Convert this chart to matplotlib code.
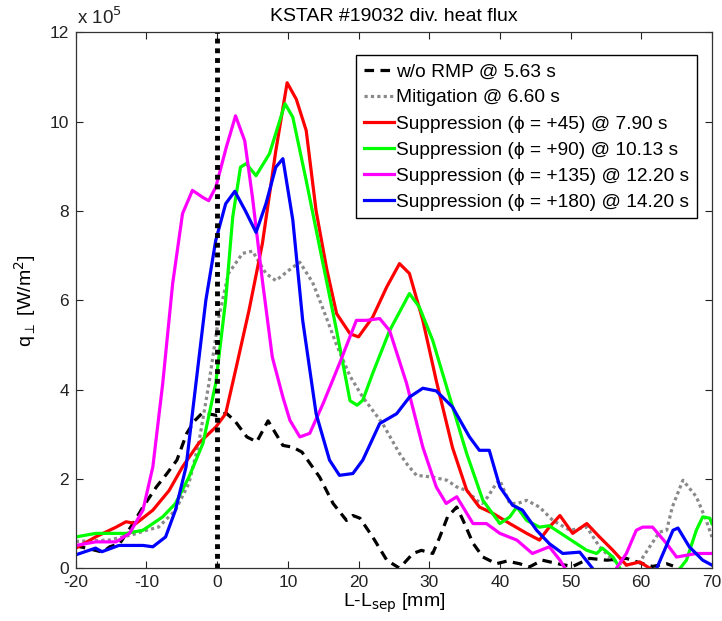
import numpy as np
import matplotlib
matplotlib.use("Agg")
import matplotlib.pyplot as plt

plt.rcParams['font.family'] = ['Liberation Sans', 'DejaVu Sans']
plt.rcParams['axes.unicode_minus'] = False

# L - L_sep [mm] and q_perp [x 10^5 W/m^2]
x_normp = [-20, -18.5, -16.2, -15.2, -13.8, -11.9, -10.5, -8.6, -7.1, -5.7, -4.3, -3.2, -2.2, -1, 0,
           1.3, 2.5, 4.2, 5.6, 7.2, 9.3, 10.7, 12, 14.5, 16.4, 18.3, 19.2, 20.2, 22, 24, 25.8, 27.7,
           28.9, 30.5, 31.5, 32.6, 33.9, 34.8, 36.2, 37.6, 39.5, 41, 42.8, 44.2, 46, 48.5, 50.3, 52.7,
           55.1, 57.9, 59.8, 61.6, 63.6, 64.5]
q_normp = [0.5, 0.45, 0.36, 0.48, 0.55, 1.0, 1.37, 1.82, 2.12, 2.42, 3.02, 3.3, 3.46, 3.45, 3.42,
           3.47, 3.3, 2.94, 2.83, 3.3, 2.75, 2.71, 2.6, 2.04, 1.45, 1.07, 1.18, 1.12, 0.7, 0.18, 0.0, 0.33,
           0.4, 0.33, 0.7, 1.15, 1.37, 1.07, 0.56, 0.25, 0.1, 0.16, 0.1, 0.03, 0.18, 0.09, 0.04, 0.22,
           0.18, 0.22, 0.12, 0.04, 0.1, 0.05]

x_mitig = [-20, -15.3, -12, -10, -8.3, -5.9, -4, -2.6, -1.2, 0.2, 1.6, 3.6, 5, 6.9, 8.3, 10.7, 11.7,
           13.5, 15, 16.9, 18.8, 20.6, 23.4, 25.8, 27, 28.2, 30.5, 32.5, 33.9, 35.3, 36.7, 37.5, 38.3,
           39.5, 40, 41.4, 42.5, 43.8, 45.6, 47.5, 49.9, 52.3, 54.1, 56, 57.9, 59.8, 61.2, 62.6, 63.6,
           64.4, 65.9, 67.8, 69.2, 70]
q_mitig = [0.6, 0.63, 0.75, 0.85, 0.92, 1.3, 1.9, 2.8, 4.1, 5.6, 6.6, 7.05, 7.1, 6.6, 6.44, 6.74, 6.85,
           6.4, 5.8, 5.0, 4.3, 3.83, 3.24, 2.57, 2.3, 2.08, 2.04, 1.97, 1.82, 1.74, 1.52, 1.45, 1.6,
           1.9, 1.97, 1.45, 1.45, 1.52, 1.37, 1.07, 0.85, 0.92, 0.48, 0.18, 0.07, 0.14, 0.48, 0.81, 0.85,
           1.37, 1.97, 1.6, 1.07, 0.7]

x_p45 = [-20, -17.2, -14.3, -12.9, -11.5, -9.1, -6.8, -4.9, -2.6, -0.2, 1.2, 2.6, 4.5, 6.4, 8.3, 9.9,
         11.2, 12.6, 14, 15.5, 16.9, 18.8, 20, 22, 24, 25.8, 27.2, 29.1, 31, 33.3, 35.3, 37.1, 39, 41.4,
         43.8, 45.6, 47, 48.5, 50.3, 52.3, 54.1, 56, 57.9, 59.8, 61.2, 62.5]
q_p45 = [0.45, 0.7, 0.92, 1.04, 1.0, 1.3, 1.74, 2.27, 2.8, 3.16, 3.46, 4.43, 5.77, 7.27, 9.35, 10.87,
         10.5, 9.8, 8.0, 6.7, 5.7, 5.25, 5.18, 5.62, 6.3, 6.82, 6.6, 5.55, 4.2, 2.7, 1.75, 1.37, 1.23, 1.0,
         0.78, 0.63, 0.92, 1.18, 0.78, 1.0, 0.7, 0.4, 0.07, 0.14, 0.0, -0.2]

x_p90 = [-20, -17.2, -12.9, -10.5, -7.7, -5.9, -4, -2, -0.2, 1.2, 2.2, 3.3, 4.1, 5.5, 7.4, 9.6, 10.7,
         12.6, 14.5, 16.9, 18.8, 19.8, 20.6, 22, 24.4, 27.2, 28.6, 30.5, 32.9, 35.3, 37.6, 40, 41.4,
         42.4, 43.8, 45.6, 47, 49.4, 52.3, 53.7, 54.5, 56, 57, 58, 63, 64.5, 66.4, 67.8, 68.7, 69.7, 70]
q_p90 = [0.7, 0.78, 0.78, 0.85, 1.15, 1.45, 2.04, 2.8, 4.14, 6.0, 7.86, 8.98, 9.06, 8.79, 9.28, 10.4, 10.1,
         8.68, 7.19, 5.32, 3.75, 3.65, 3.76, 4.36, 5.32, 6.15, 5.85, 5.1, 3.83, 2.57, 1.52, 1.0, 1.15,
         1.37, 1.07, 0.92, 0.95, 0.7, 0.4, 0.33, 0.45, 0.25, 0.0, -0.5, -0.5, -0.2, 0.18, 0.85, 1.15, 1.12, 1.0]

x_p135 = [-20, -17.2, -14.3, -12.4, -10.5, -9.1, -7.7, -6.3, -4.9, -3.5, -2, -1.2, -0.2, 1.3, 2.6, 3.9,
          5.0, 6.4, 7.8, 9.3, 10.3, 11.7, 13.1, 15, 17.3, 19.7, 21.1, 23, 24.4, 26.8, 29.1, 31, 32.4,
          33.9, 36.2, 38.1, 40, 42.4, 44.6, 47, 48.5, 49.4, 50.5, 56, 56.5, 57.9, 59.3, 60.2, 61.6, 63.6,
          65, 66.4, 67.8, 70]
q_p135 = [0.51, 0.59, 0.59, 0.78, 1.3, 2.27, 4.14, 6.37, 7.94, 8.46, 8.3, 8.23, 8.53, 9.43, 10.13, 9.57,
          8.3, 6.44, 4.73, 3.83, 3.31, 2.94, 3.02, 3.69, 4.58, 5.55, 5.55, 5.59, 5.32, 4.14, 2.71, 1.82, 1.45,
          1.6, 1.0, 1.0, 0.78, 0.63, 0.33, 0.48, 0.18, -0.05, -0.5, -0.5, 0.0, 0.33, 0.85, 0.92, 0.92, 0.55,
          0.25, 0.29, 0.33, 0.33]

x_p180 = [-20, -17.2, -16.3, -13.9, -10.5, -9.1, -7.3, -5.9, -4.4, -3, -1.6, -0.2, 1.2, 2.5, 4.0, 5.5,
          6.9, 8.3, 9.3, 10.7, 12.1, 14, 15.9, 17.3, 19.2, 20.6, 23, 25.4, 27.2, 29.1, 31, 33.3, 35.7,
          37.1, 38.5, 40, 41.8, 43.2, 45.2, 47, 48.9, 51.3, 53.1, 54, 61, 62.2, 64.5, 65.2, 66.8, 68.7, 70]
q_p180 = [0.3, 0.45, 0.37, 0.51, 0.51, 0.48, 0.7, 1.3, 2.27, 4.14, 6.0, 7.34, 8.16, 8.44, 8.0, 7.52,
          8.16, 8.98, 9.17, 7.8, 5.55, 3.46, 2.42, 2.08, 2.12, 2.42, 3.24, 3.46, 3.83, 4.03, 3.97, 3.61, 2.94,
          2.64, 2.64, 1.82, 1.41, 1.3, 0.85, 0.55, 0.33, 0.36, 0.0, -0.5, -0.5, 0.0, 0.85, 0.9, 0.48, 0.18, 0.07]

labels = ["w/o RMP @ 5.63 s",
          "Mitigation @ 6.60 s",
          "Suppression (\u03d5 = +45) @ 7.90 s",
          "Suppression (\u03d5 = +90) @ 10.13 s",
          "Suppression (\u03d5 = +135) @ 12.20 s",
          "Suppression (\u03d5 = +180) @ 14.20 s"]

fig = plt.figure(figsize=(7.22, 6.21), dpi=100)
ax = fig.add_axes([0.105, 0.085, 0.881, 0.863])

lw = 2.3
ax.plot(x_normp, q_normp, color='k', ls=(0, (3.0, 2.0)), lw=lw, label=labels[0])
ax.plot(x_mitig, q_mitig, color='#8a8a8a', ls=(0, (1, 1)), lw=lw, label=labels[1])
ax.plot(x_p45, q_p45, color='#ff0000', lw=lw, label=labels[2])
ax.plot(x_p90, q_p90, color='#00ff00', lw=lw, label=labels[3])
ax.plot(x_p135, q_p135, color='#ff00ff', lw=lw, label=labels[4])
ax.plot(x_p180, q_p180, color='#0000ff', lw=lw, label=labels[5])
ax.axvline(0, color='k', ls=(0, (1, 1)), lw=3.5)

ax.set_xlim(-20, 70)
ax.set_ylim(0, 12)
ax.set_xticks(np.arange(-20, 71, 10))
ax.set_yticks(np.arange(0, 13, 2))
ax.tick_params(direction='in', length=5, width=0.8, top=True, right=True,
               labelsize=12.5, colors='#222222', pad=5)
for s in ax.spines.values():
    s.set_linewidth(0.9)
    s.set_color('#333333')

ax.set_title("KSTAR #19032 div. heat flux", fontsize=14, pad=8)
ax.text(0.002, 1.008, r"x 10$^5$", transform=ax.transAxes, fontsize=13.5,
        ha='left', va='bottom', color='#222222')
ax.set_xlabel(r"L-L$_\mathrm{sep}$ [mm]", fontsize=14, labelpad=1)
ax.set_ylabel(r"q$_\perp$ [W/m$^2$]", fontsize=14, labelpad=8)

leg = ax.legend(loc='upper right', bbox_to_anchor=(0.976, 0.957), fontsize=13.8,
                handlelength=1.55, handletextpad=0.12, labelspacing=0.45,
                borderpad=0.4, borderaxespad=0, fancybox=False, framealpha=1)
leg.get_frame().set_edgecolor('k')
leg.get_frame().set_linewidth(1.0)

fig.savefig("out.png", dpi=100)
